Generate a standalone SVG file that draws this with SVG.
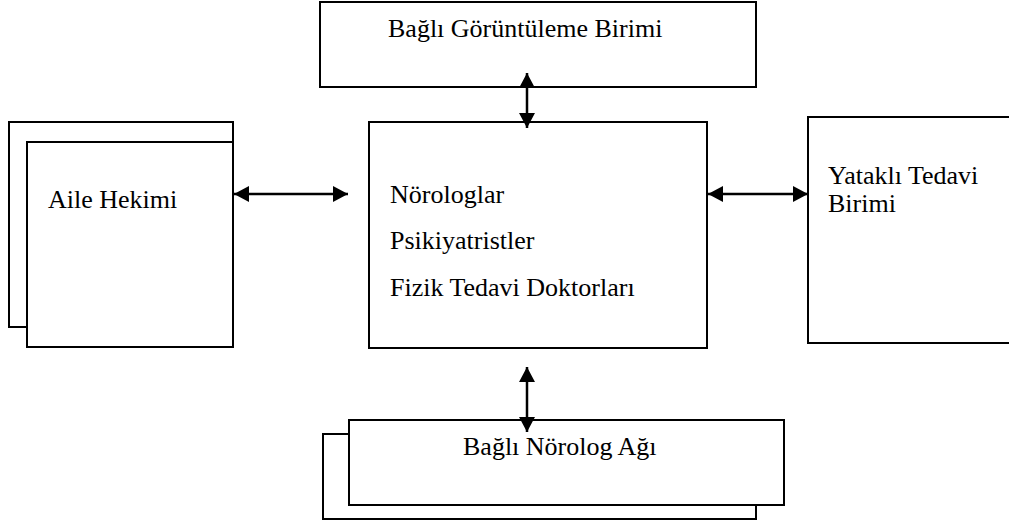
<svg xmlns="http://www.w3.org/2000/svg" width="1009" height="525" viewBox="0 0 1009 525">
<style>
.box{fill:#fff;stroke:#000;stroke-width:2}
.lbl{font-family:"Liberation Serif","Times New Roman",serif;font-size:26px;fill:#000}
.conn{stroke:#000;stroke-width:2.5;fill:none;marker-start:url(#ah);marker-end:url(#ah)}
</style>
<defs>
<marker id="ah" viewBox="0 0 15 16" refX="15" refY="8" markerWidth="15" markerHeight="16" markerUnits="userSpaceOnUse" orient="auto-start-reverse">
<path d="M0,0 L15,8 L0,16 Z" fill="#000"/>
</marker>
</defs>
<rect width="1009" height="525" fill="#fff"/>
<g id="goruntuleme">
<rect class="box" x="320" y="2" width="436" height="85"/>
<text class="lbl" x="388" y="37">Bağlı Görüntüleme Birimi</text>
</g>
<g id="aile-hekimi">
<rect class="box" x="9" y="122" width="224" height="205"/>
<rect class="box" x="27" y="142" width="206" height="205"/>
<text class="lbl" x="48" y="208">Aile Hekimi</text>
</g>
<g id="merkez">
<rect class="box" x="369" y="122" width="338" height="226"/>
<text class="lbl" x="390" y="203">Nörologlar</text>
<text class="lbl" x="390" y="249">Psikiyatristler</text>
<text class="lbl" x="390" y="296">Fizik Tedavi Doktorları</text>
</g>
<g id="yatakli">
<rect class="box" x="808" y="117" width="210" height="226"/>
<text class="lbl" x="828" y="184">Yataklı Tedavi</text>
<text class="lbl" x="828" y="212">Birimi</text>
</g>
<g id="norolog-agi">
<rect class="box" x="323" y="434" width="433" height="85"/>
<rect class="box" x="349" y="420" width="435" height="85"/>
<text class="lbl" x="463" y="455">Bağlı Nörolog Ağı</text>
</g>
<g id="connectors">
<line class="conn" x1="234" y1="194" x2="348" y2="194"/>
<line class="conn" x1="708" y1="194" x2="808" y2="194"/>
<line class="conn" x1="527" y1="73" x2="527" y2="128"/>
<line class="conn" x1="527" y1="367" x2="527" y2="432"/>
</g>
</svg>
